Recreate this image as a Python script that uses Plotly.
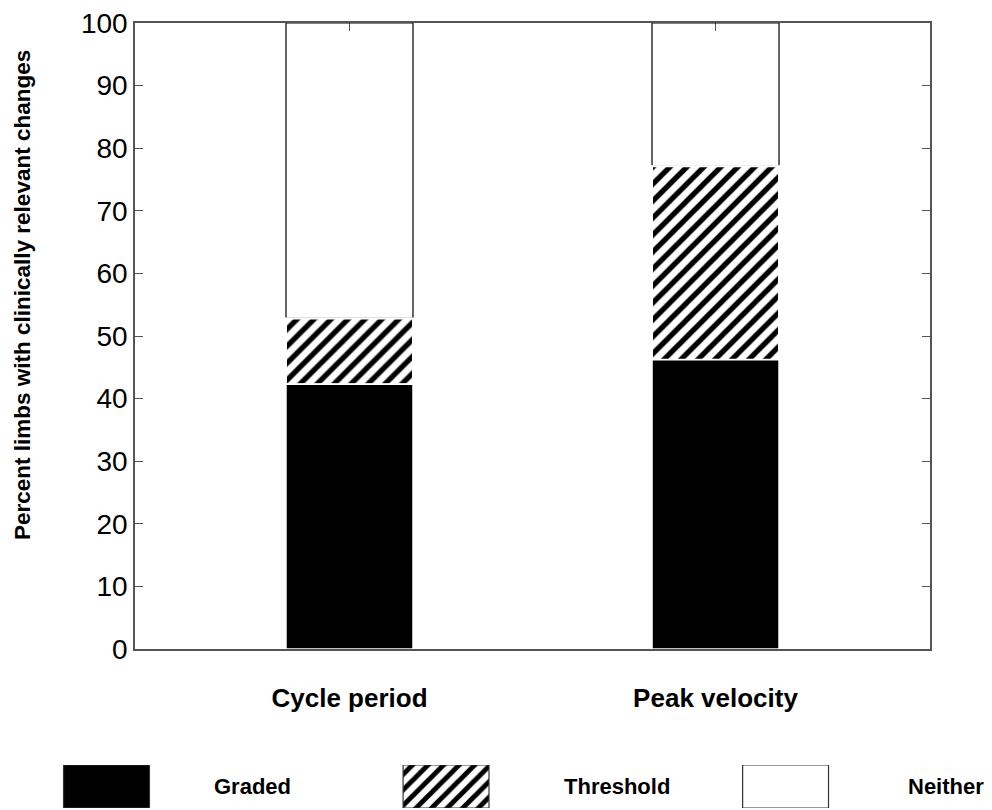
import plotly.graph_objects as go

categories = ["Cycle period", "Peak velocity"]
graded = [42.3, 46.2]
threshold = [10.5, 30.9]
neither = [47.2, 22.9]
legend_names = ["Graded", "Threshold", "Neither"]
y_ticks = [0, 10, 20, 30, 40, 50, 60, 70, 80, 90, 100]

W, H = 992, 810
OFF = 8  # page body margin
FONT = "Liberation Sans, Arial, sans-serif"


def px(x):
    return (x - OFF) / W


def py(y):
    return (H - (y - OFF)) / H


base_thr = graded
base_nei = [g + t for g, t in zip(graded, threshold)]
bw = 0.347

fig = go.Figure()
fig.add_trace(go.Bar(x=categories, y=neither, base=base_nei, width=bw,
                     marker=dict(color="rgba(0,0,0,0)", line=dict(color="black", width=1.2)),
                     showlegend=False, xaxis="x", yaxis="y"))
fig.add_trace(go.Bar(x=categories, y=threshold, base=base_thr, width=bw,
                     marker=dict(color="white", line=dict(color="white", width=2),
                                 pattern=dict(shape="/", fgcolor="black", bgcolor="white",
                                              size=12, solidity=0.45)),
                     showlegend=False, xaxis="x", yaxis="y"))
fig.add_trace(go.Bar(x=categories, y=graded, width=bw,
                     marker=dict(color="black", line=dict(color="white", width=1.5)),
                     showlegend=False, xaxis="x", yaxis="y"))

# legend drawn as bars on a helper axis
leg_colors = ["black", "white", "white"]
leg_patterns = ["", "/", ""]
for i, name in enumerate(legend_names):
    fig.add_trace(go.Bar(x=[i], y=[1], width=0.253,
                         marker=dict(color=leg_colors[i], line=dict(color="#333", width=1.2),
                                     pattern=dict(shape=leg_patterns[i], fgcolor="black",
                                                  bgcolor="white", size=11, solidity=0.45)),
                         showlegend=False, xaxis="x2", yaxis="y2"))

leg_text_x = [252, 617, 946]
annotations = [dict(text=f"<b>{n}</b>", x=px(leg_text_x[i]), y=py(786), xref="paper", yref="paper",
                    showarrow=False, font=dict(family=FONT, size=22, color="black"),
                    xanchor="center", yanchor="middle")
               for i, n in enumerate(legend_names)]
annotations.append(dict(text="<b>Percent limbs with clinically relevant changes</b>",
                        x=px(22), y=py(295), xref="paper", yref="paper", showarrow=False,
                        textangle=-90, font=dict(family=FONT, size=22.5, color="black"),
                        xanchor="center", yanchor="middle"))

axcol = "#555555"
fig.update_layout(
    template="none",
    width=W, height=H,
    margin=dict(l=0, r=0, t=0, b=0, autoexpand=False),
    paper_bgcolor="white", plot_bgcolor="white",
    barmode="overlay",
    font=dict(family=FONT, color="black"),
    xaxis=dict(domain=[px(135), px(930)], type="category", range=[-0.586, 1.586],
               showline=True, linecolor=axcol, linewidth=1.5, mirror="ticks",
               ticks="inside", ticklen=8, tickcolor=axcol, tickwidth=1,
               showgrid=False, zeroline=False, layer="below traces",
               tickfont=dict(family=FONT, size=26, color="black"),
               ticklabelstandoff=25, anchor="y", automargin=False,
               ticklabeloverflow="allow",
               tickprefix="<b>", ticksuffix="</b>"),
    yaxis=dict(domain=[py(649), py(23)], range=[0, 100],
               tickvals=y_ticks, ticktext=[str(v) for v in y_ticks],
               showline=True, linecolor=axcol, linewidth=1.5, mirror="ticks",
               ticks="inside", ticklen=8, tickcolor=axcol, tickwidth=1,
               showgrid=False, zeroline=False, layer="below traces",
               tickfont=dict(family=FONT, size=28, color="black"),
               ticklabeloverflow="allow",
               anchor="x", automargin=False),
    xaxis2=dict(domain=[0, 1], range=[-0.3137 + OFF / 339.5, 2.608 + OFF / 339.5],
                visible=False, anchor="y2"),
    yaxis2=dict(domain=[py(808), py(765)], range=[0, 1], visible=False, anchor="x2"),
    annotations=annotations,
)

fig.write_html("out.html")
